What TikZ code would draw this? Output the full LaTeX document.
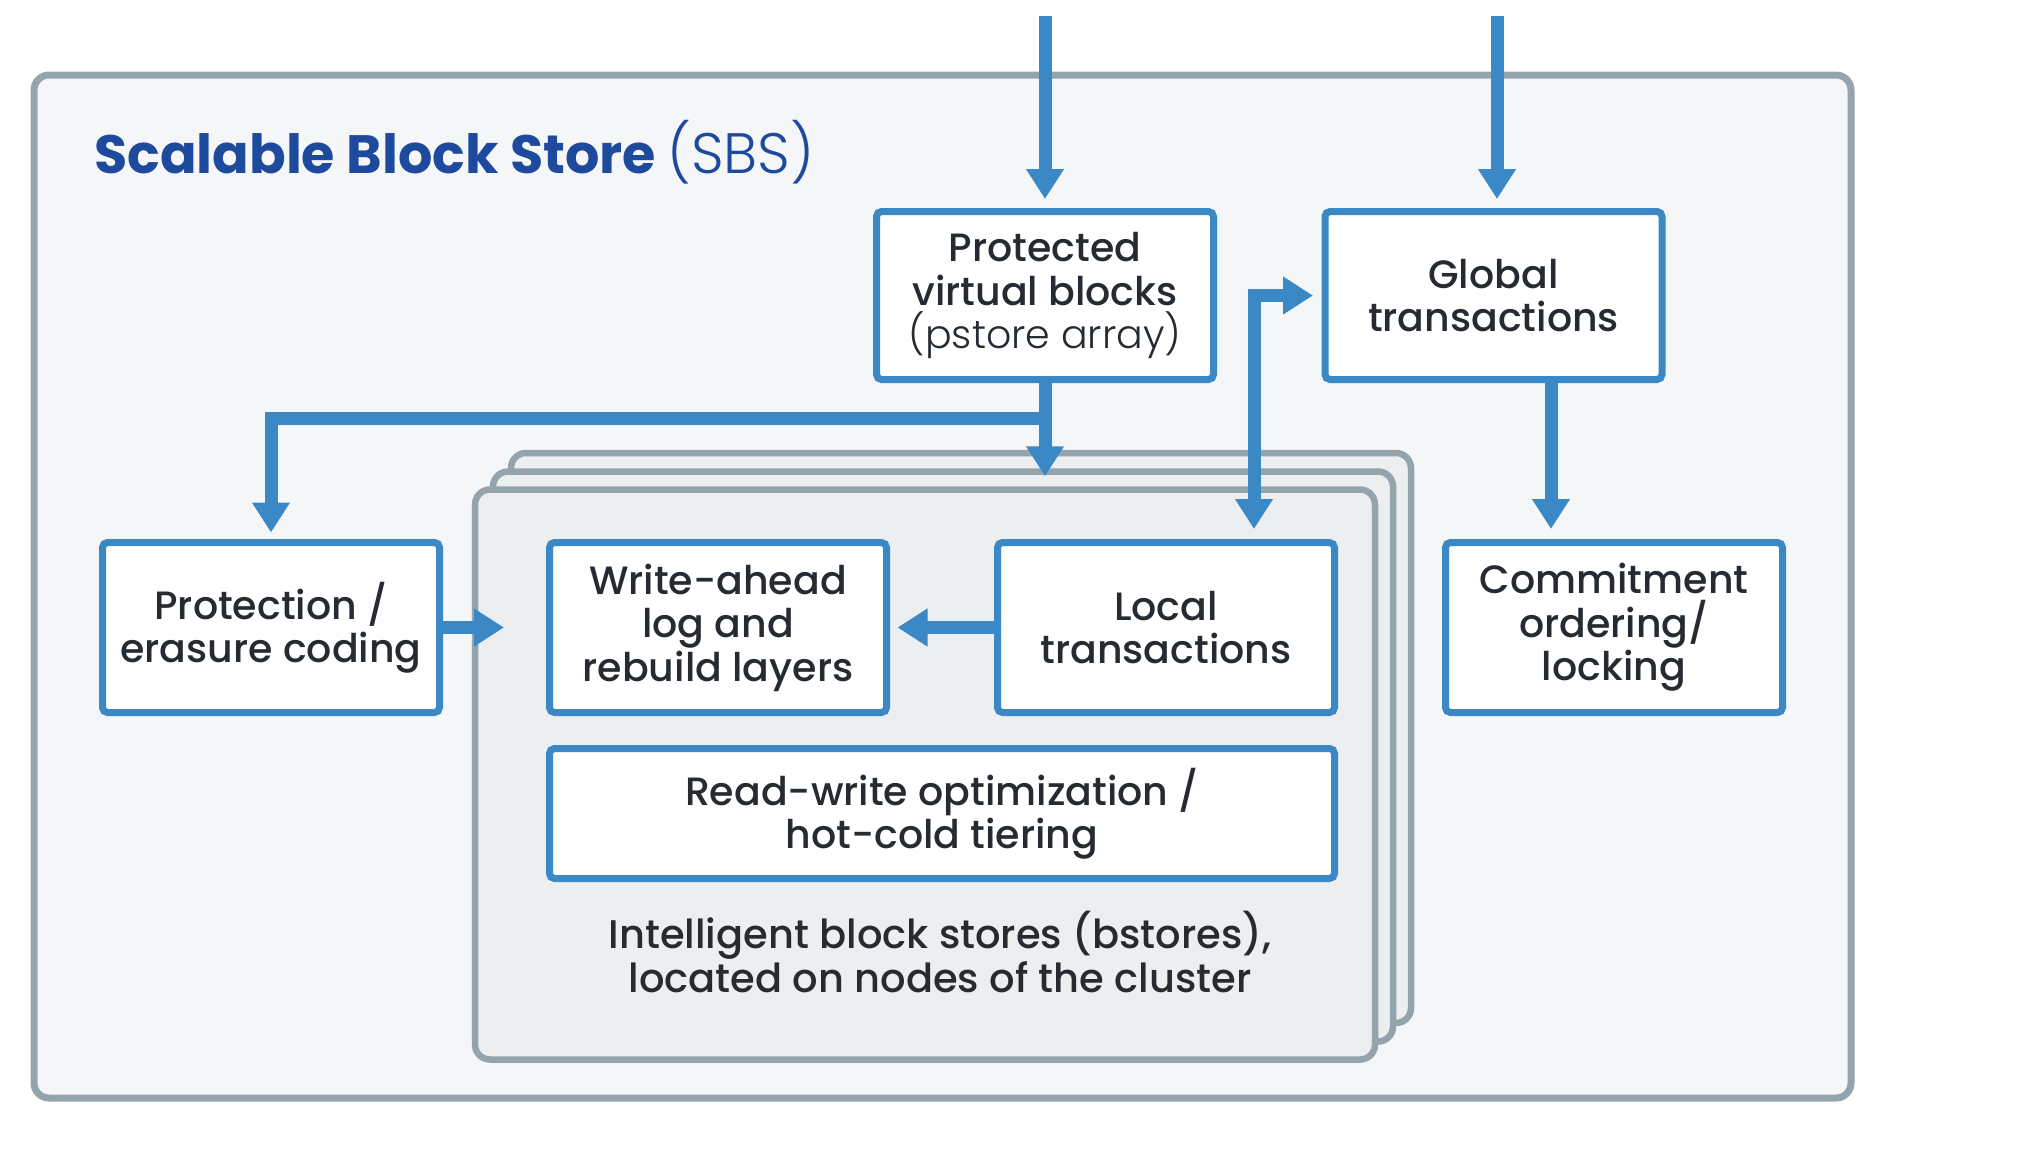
\documentclass[tikz,border=0pt]{standalone}
\usepackage{fontspec}
\newfontfamily\fmed{Poppins Medium}
\newfontfamily\fbold{Poppins Bold}
\newfontfamily\flight{Poppins Light}
\usetikzlibrary{arrows.meta,calc}
\definecolor{sbsblue}{HTML}{3A89C6}
\definecolor{titleblue}{HTML}{1E4A9E}
\definecolor{framegray}{HTML}{94A4AD}
\definecolor{outerfill}{HTML}{F5F6F8}
\definecolor{stackfill}{HTML}{ECEEF0}
\definecolor{txt}{HTML}{252B30}
\begin{document}
\begin{tikzpicture}[x=1pt,y=-1pt,
  blockbox/.style={draw=sbsblue, line width=7pt, fill=white, rounded corners=5pt,
    minimum width=337pt, minimum height=170pt, inner sep=0pt, align=center,
    text=txt, font=\fmed\fontsize{39.5}{43.5}\selectfont},
  stackbox/.style={draw=framegray, line width=6.5pt, fill=stackfill, rounded corners=15pt,
    minimum width=900pt, minimum height=570pt, inner sep=0pt},
  framebox/.style={draw=framegray, line width=7pt, fill=outerfill, rounded corners=15pt,
    minimum width=1817pt, minimum height=1023pt, inner sep=0pt},
  arr/.style={draw=sbsblue, line width=13pt, -{Triangle[width=36pt,length=30pt]}},
  arrboth/.style={draw=sbsblue, line width=13pt, {Triangle[width=36pt,length=30pt]}-{Triangle[width=36pt,length=30pt]}},
  plaintext/.style={inner sep=0pt, align=center, text=txt, font=\fmed\fontsize{40}{43.5}\selectfont}
]
\useasboundingbox (0,0) rectangle (2030,1154);
% outer frame
\node[framebox] (sbs) at (942.5,586.5) {};
\node[anchor=base west, inner sep=0pt, text=titleblue] (title) at (94,173)
  {\fontsize{54}{62}\selectfont\fbold Scalable Block Store {\fontsize{57}{62}\selectfont\flight(SBS)}};
% stacked bstores
\node[stackbox] (st3) at (961,738) {};
\node[stackbox] (st2) at (943,756.5) {};
\node[stackbox] (st1) at (925,774.5) {};
% blocks
\node[blockbox, minimum height=168pt] (pvb) at (1045,295.5) {Protected\\virtual blocks\\{\flight(pstore array)}};
\node[blockbox, minimum height=168pt] (glob) at (1493.5,295.5) {Global\\transactions};
\node[blockbox] (prot) at (271,627.5) {Protection /\\erasure coding};
\node[blockbox] (wal) at (718,627.5) {Write-ahead\\log and\\rebuild layers};
\node[blockbox] (loc) at (1166,627.5) {Local\\transactions};
\node[blockbox] (com) at (1614,627.5) {Commitment\\ordering/\\locking};
\node[blockbox, minimum width=785pt, minimum height=130pt] (rw) at (942,813.5) {Read-write optimization /\\hot-cold tiering};
\node[plaintext] (bst) at (940,952) {Intelligent block stores (bstores),\\located on nodes of the cluster};
% incoming arrows
\coordinate (in1) at (1045,16);
\coordinate (in2) at (1497,16);
\draw[arr] (in1) -- ($(pvb.north)+(0,-9)$);
\draw[arr] (in2) -- ($(in2 |- glob.north)+(0,-9)$);
% pvb to bstores and protection
\draw[arr] (pvb.south) -- ($(pvb.south |- st1.north)+(0,-10)$);
\coordinate (branch) at ($(pvb.south)+(0,35.5)$);
\draw[arr] (branch) -| ($(prot.north)+(0,-6.5)$);
% protection to bstores
\draw[arr] (prot.east) -- ($(prot.east)+(61,0)$);
% local to write-ahead
\draw[arr] (loc.west) -- ($(wal.east)+(7.5,0)$);
% local <-> global
\draw[arrboth] ($(loc.north)+(88,-10)$) |- ($(glob.west)+(-8.5,0)$);
% global to commitment
\draw[arr] ($(glob.south)+(57.5,0)$) -- ($(com.north)+(-63,-10)$);
\end{tikzpicture}
\end{document}
